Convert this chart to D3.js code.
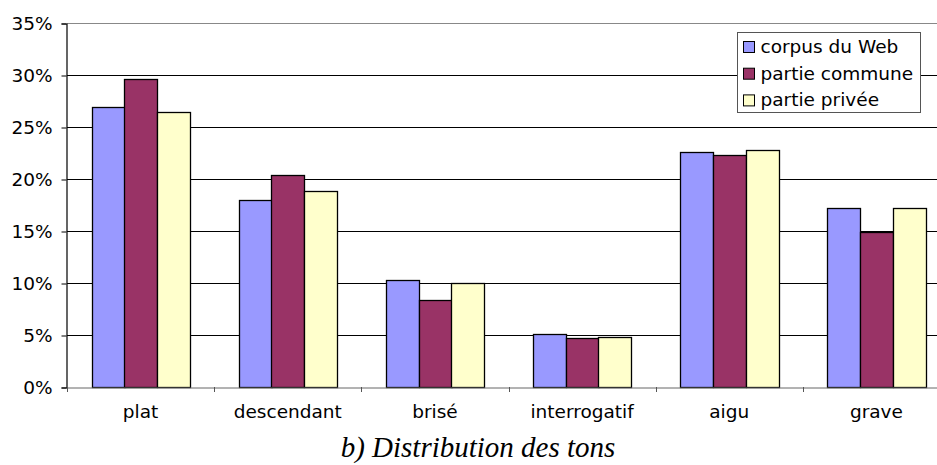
<!DOCTYPE html>
<html>
<head>
<meta charset="utf-8">
<script src="https://cdn.jsdelivr.net/npm/d3@7"></script>
<style>
  body { margin: 0; background: #fff; }
  text { font-family: "DejaVu Sans", Verdana, sans-serif; fill: #000; }
</style>
</head>
<body>
<svg id="chart"></svg>
<script>
// Tone categories and the three series (percent)
var categories = ["plat", "descendant", "brisé", "interrogatif", "aigu", "grave"];
var seriesNames = ["corpus du Web", "partie commune", "partie privée"];
var corpusWeb = [26.9, 18.0, 10.3, 5.1, 22.6, 17.2];
var partieCommune = [29.6, 20.4, 8.4, 4.7, 22.3, 14.9];
var partiePrivee = [26.4, 18.8, 10.0, 4.8, 22.8, 17.2];
var yTicks = [0, 5, 10, 15, 20, 25, 30, 35];
var colors = ["#9999ff", "#993366", "#ffffcc"];

var width = 937, height = 465;
var margin = {top: 23, left: 67, bottom: 78};
var plotRight = 950;   // plot area runs past the picture's right edge

var svg = d3.select("#chart")
            .attr("width", width)
            .attr("height", height);

var series = [corpusWeb, partieCommune, partiePrivee];

var xScale = d3.scaleBand()
               .domain(categories)
               .range([margin.left, plotRight]);

// Excel-style gap width of 150%: three bars plus 1.5 bars gap per category
var xInner = d3.scaleBand()
               .domain(d3.range(series.length))
               .range([0, xScale.bandwidth()])
               .paddingInner(0)
               .paddingOuter(0.75);

var yScale = d3.scaleLinear()
               .domain([0, 35])
               .range([height - margin.bottom, margin.top]);

// Gridlines
svg.append("g")
   .selectAll("line")
   .data(yTicks.slice(1))
   .enter()
   .append("line")
   .attr("x1", margin.left)
   .attr("x2", plotRight)
   .attr("y1", function(d) {return Math.round(yScale(d)) + 0.5;})
   .attr("y2", function(d) {return Math.round(yScale(d)) + 0.5;})
   .attr("stroke", function(d) {return d === 35 ? "#888" : "#000";})
   .attr("stroke-width", 1);

// Bars
var groups = svg.append("g")
   .selectAll("g")
   .data(series)
   .enter()
   .append("g")
   .attr("fill", function(d, i) {return colors[i];});

groups.each(function(values, si) {
    d3.select(this).selectAll("rect")
      .data(values)
      .enter()
      .append("rect")
      .attr("x", function(d, ci) {return Math.round(xScale(categories[ci]) + xInner(si)) + 0.5;})
      .attr("width", Math.round(xInner.bandwidth()))
      .attr("y", function(d) {return Math.round(yScale(d)) + 0.5;})
      .attr("height", function(d) {return Math.round(yScale(0)) - Math.round(yScale(d));})
      .attr("stroke", "#000")
      .attr("stroke-width", 1.3);
});

// Y axis
var yAxis = svg.append("g")
   .attr("transform", "translate(" + (margin.left - 0.5) + ",0.5)")
   .call(d3.axisLeft(yScale)
           .tickValues(yTicks)
           .tickSize(5)
           .tickFormat(function(d) {return d + "%";}));
yAxis.select(".domain").attr("stroke", "#000").attr("stroke-width", 1.2);
yAxis.selectAll(".tick line").attr("stroke", "#000");
yAxis.selectAll("text")
     .attr("x", -14)
     .style("font-size", "18.5px")
     .style("font-family", "DejaVu Sans, Verdana, sans-serif");

// X axis
var xAxis = svg.append("g")
   .attr("transform", "translate(0," + (Math.round(yScale(0)) + 0.5) + ")")
   .call(d3.axisBottom(xScale).tickSize(0));
xAxis.select(".domain").attr("stroke", "#666");
xAxis.selectAll("text")
     .attr("y", 17)
     .style("font-size", "18.5px")
     .style("font-family", "DejaVu Sans, Verdana, sans-serif");

// Category boundary ticks
svg.append("g")
   .selectAll("line")
   .data(categories)
   .enter()
   .append("line")
   .attr("x1", function(d) {return Math.round(xScale(d)) + 0.5;})
   .attr("x2", function(d) {return Math.round(xScale(d)) + 0.5;})
   .attr("y1", Math.round(yScale(0)))
   .attr("y2", Math.round(yScale(0)) + 5)
   .attr("stroke", "#555");

// Legend
var legend = svg.append("g")
   .attr("transform", "translate(737.5,32.5)");
legend.append("rect")
      .attr("width", 183)
      .attr("height", 80)
      .attr("fill", "#fff")
      .attr("stroke", "#555");

var rows = legend.selectAll("g.row")
   .data(seriesNames)
   .enter()
   .append("g")
   .attr("class", "row")
   .attr("transform", function(d, i) {return "translate(6," + (9 + i * 26.7) + ")";});
rows.append("rect")
    .attr("width", 11)
    .attr("height", 11)
    .attr("fill", function(d, i) {return colors[i];})
    .attr("stroke", "#000");
rows.append("text")
    .attr("x", 17)
    .attr("y", 11.5)
    .style("font-size", "18.5px")
    .text(function(d) {return d;});

// Caption
svg.append("text")
   .attr("x", 478)
   .attr("y", 457)
   .attr("text-anchor", "middle")
   .style("font-family", "Liberation Serif, Times New Roman, serif")
   .style("font-style", "italic")
   .style("font-size", "29px")
   .text("b) Distribution des tons");
</script>
</body>
</html>
